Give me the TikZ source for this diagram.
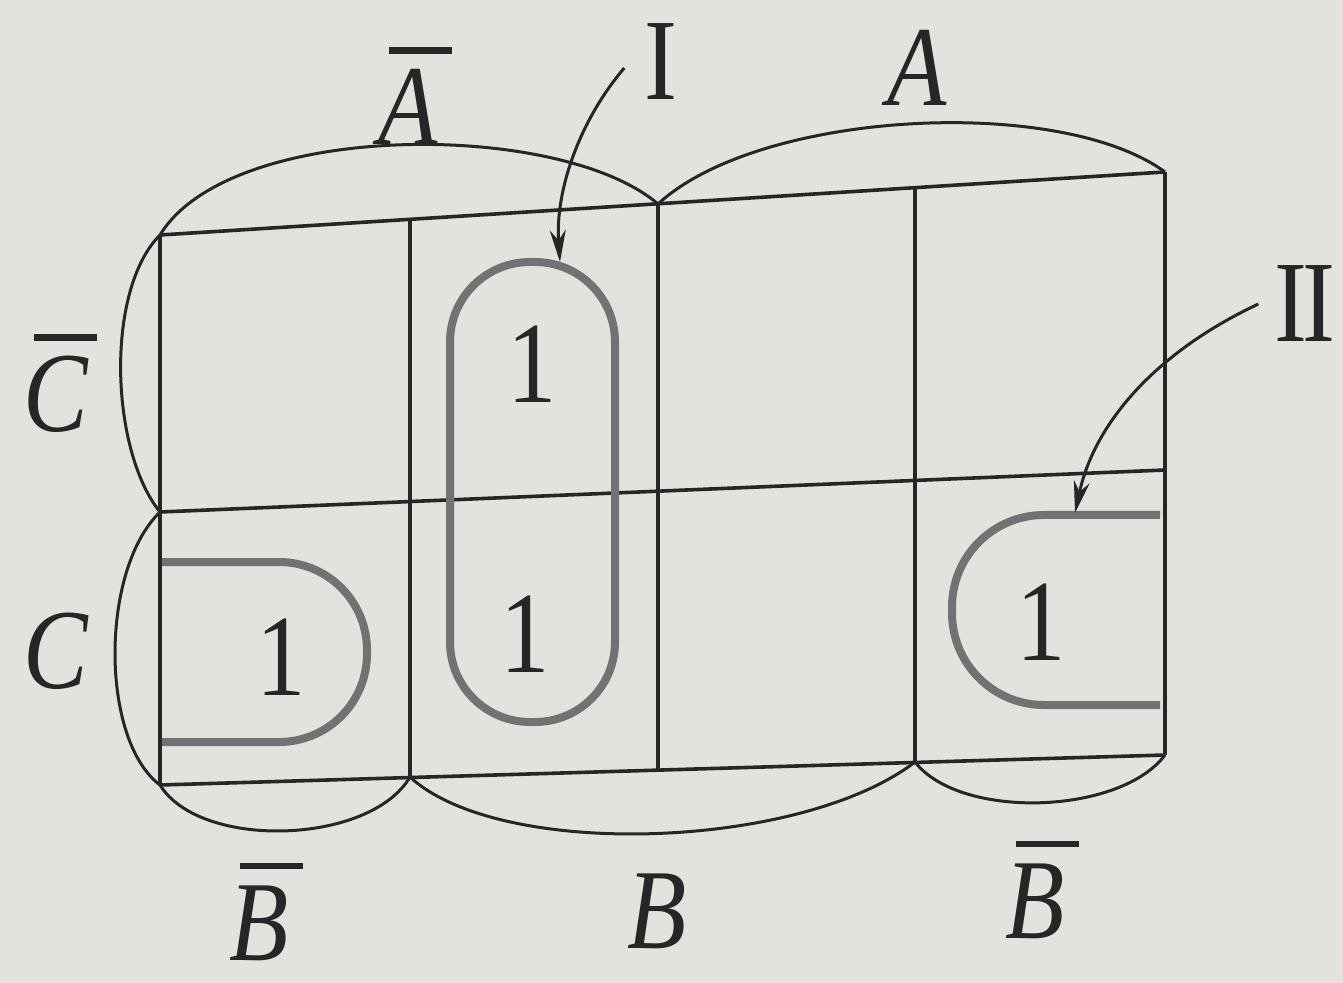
\documentclass[tikz,border=0pt]{standalone}
\usepackage{fontspec}
\setmainfont{Liberation Serif}
\usepackage{tikz}
\usetikzlibrary{arrows.meta,calc}
\definecolor{paper}{HTML}{E4E2DF}
\definecolor{ink}{HTML}{262626}
\definecolor{loopgray}{HTML}{727272}
\newcommand\negv[1]{\vbox{\offinterlineskip\hbox{\kern6pt\vrule width 37pt height 3.2pt depth 0pt}\kern 8pt\hbox{\itshape #1}}}
\tikzset{
  grid/.style    ={draw=ink,line width=1.8pt},
  ring/.style    ={draw=ink,line width=1.5pt},
  loopline/.style={draw=loopgray,line width=4pt},
  arr/.style     ={-{Stealth[length=16pt,width=8pt]},line width=1.5pt,draw=ink},
  lbl/.style     ={font=\fontsize{57}{60}\selectfont\itshape,text=ink,inner sep=0pt,anchor=base,xscale=0.85},
  one/.style     ={font=\fontsize{58}{62}\selectfont,text=ink,inner sep=0pt,anchor=base,xscale=0.85},
}
\begin{document}
\begin{tikzpicture}[x=0.5pt,y=-0.5pt]
  \fill[paper] (0,0) rectangle (1343,983);
  \useasboundingbox (0,0) rectangle (1343,983);

  % corners of the map (slightly tilted, as in the photo)
  \foreach \i/\x/\yt/\ym/\yb in {0/160/235/512/785,1/410/219/501/777,2/658/204/491/770,3/915/188/480/762,4/1165/172/470/755}{
    \coordinate (t\i) at (\x,\yt);
    \coordinate (m\i) at (\x,\ym);
    \coordinate (b\i) at (\x,\yb);
  }
  \draw[grid] (t0) -- (t4);
  \draw[grid] (m0) -- (m4);
  \draw[grid] (b0) -- (b4);
  \foreach \i in {0,...,4} \draw[grid] (t\i) -- (b\i);

  % variable rings
  \draw[ring] (t0) .. controls (230,120) and (560,120) .. (t2);
  \draw[ring] (t2) .. controls (760,110) and (1060,95) .. (t4);
  \draw[ring] (t0) .. controls (105,290) and (110,450) .. (m0);
  \draw[ring] (m0) .. controls (100,570) and (100,740) .. (b0);
  \draw[ring] (b0) .. controls (200,850) and (370,845) .. (b1);
  \draw[ring] (b1) .. controls (500,860) and (800,850) .. (b3);
  \draw[ring] (b3) .. controls (960,820) and (1120,815) .. (b4);

  % labels
  \node[lbl] (nA) at (415,145) {\negv{A}};
  \node[lbl] (pA) at (917,106) {A};
  \node[lbl] (nC) at (60,432) {\negv{C}};
  \node[lbl] (pC) at (56,688) {C};
  \node[lbl] (nBl) at (266,960) {\negv{B}};
  \node[lbl] (pB) at (657,948) {B};
  \node[lbl] (nBr) at (1042,938) {\negv{B}};

  % ones
  \node[one] (o1) at (532,403) {1};
  \node[one] (o2) at (525,672) {1};
  \node[one] (o3) at (281,695) {1};
  \node[one] (o4) at (1041,660) {1};

  % groupings
  \draw[loopline,rounded corners=40pt] (450,262) rectangle (615,722);
  \draw[loopline,rounded corners=44pt] (162,562) -- (367,562) -- (367,742) -- (162,742);
  \draw[loopline,rounded corners=46pt] (1160,515) -- (952,515) -- (952,705) -- (1160,705);
  \coordinate (gI) at (560,262);
  \coordinate (gII) at (1075,513);

  % group names
  \node[one] (lI) at (661,100) {I};
  \node[one] (lII) at (1305,342) {I\kern-3pt I};
  \draw[arr] ([xshift=-10pt,yshift=-3pt]lI.west) .. controls (580,120) and (555,190) .. (gI);
  \draw[arr] ([xshift=-8pt]lII.west) .. controls (1160,350) and (1095,420) .. (gII);
\end{tikzpicture}
\end{document}
